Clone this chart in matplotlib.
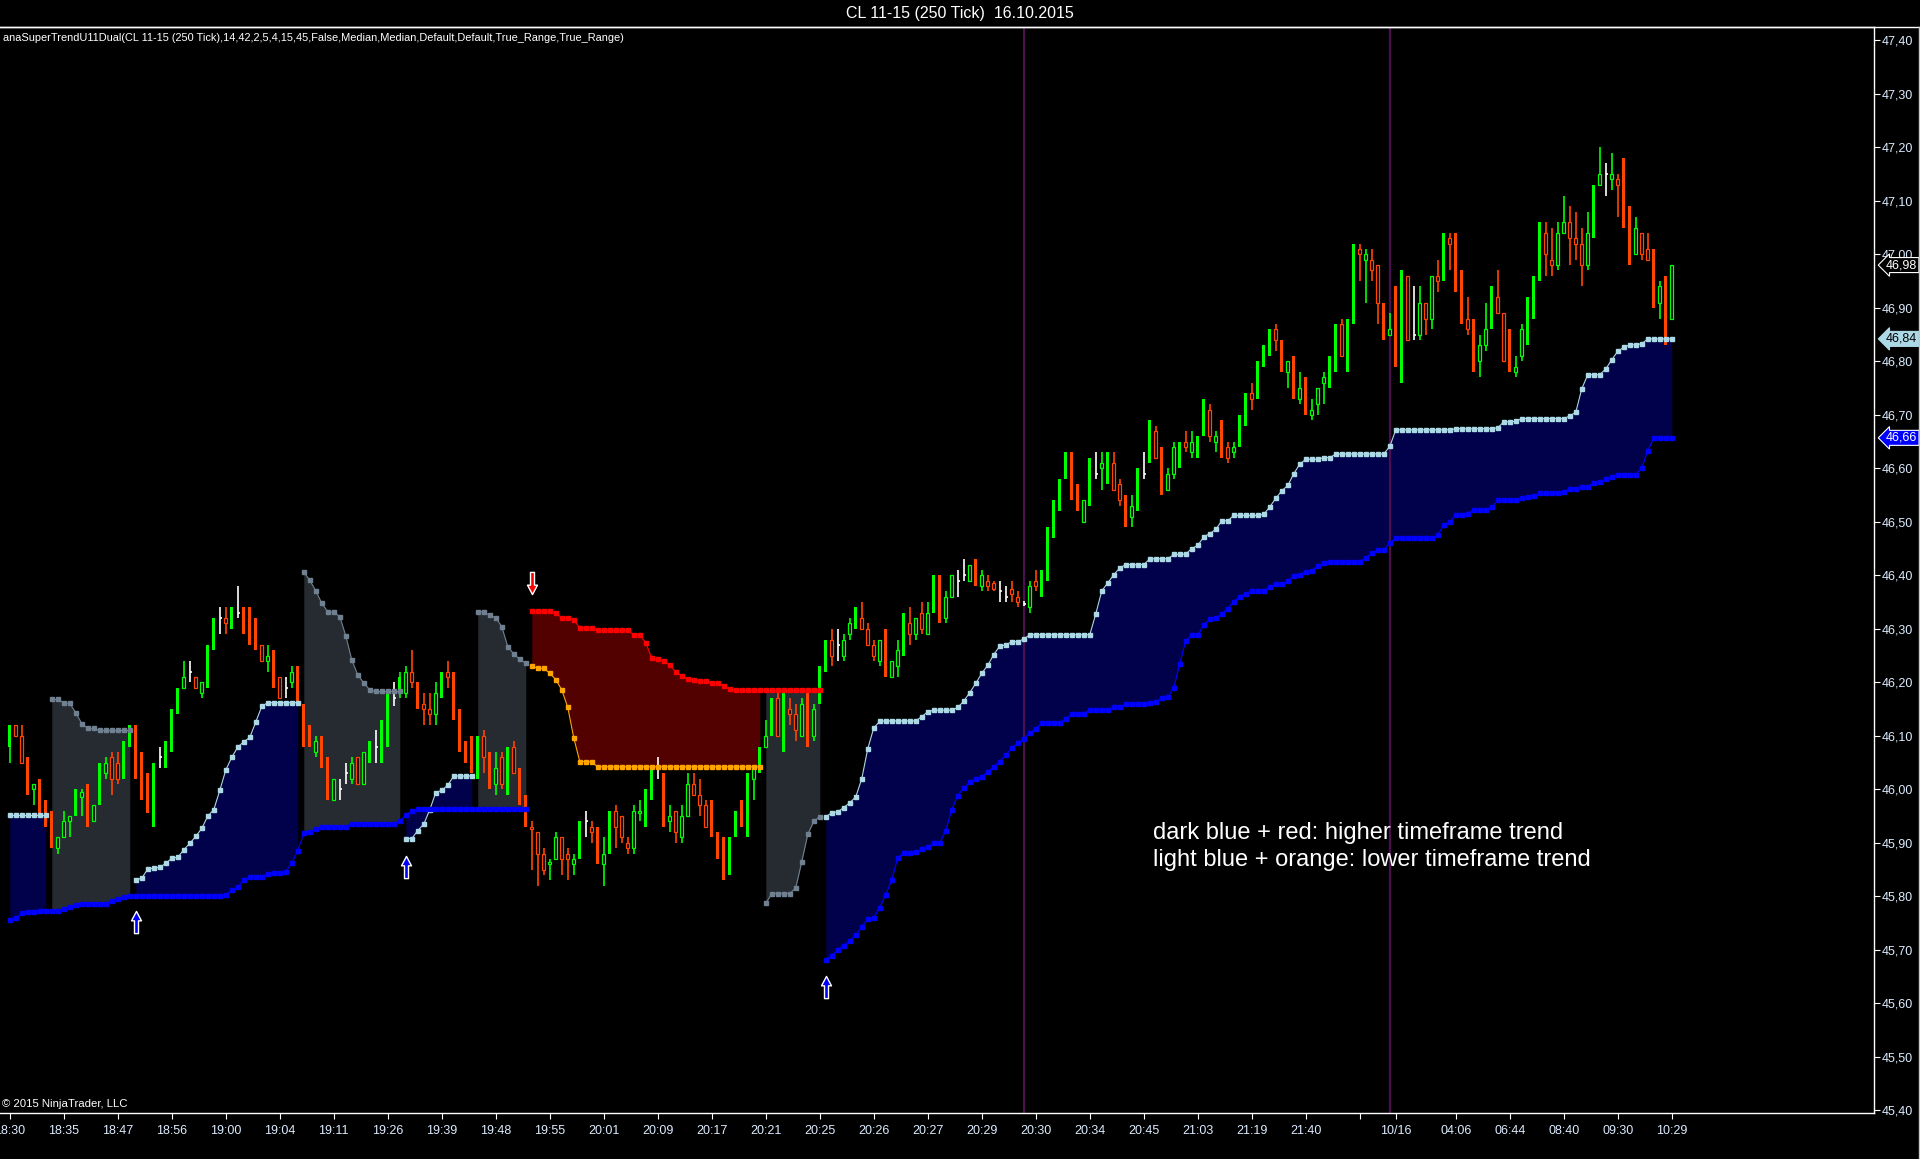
import numpy as np
import matplotlib
matplotlib.use("Agg")
import matplotlib.pyplot as plt
from matplotlib.lines import Line2D
from matplotlib.path import Path
from matplotlib.ticker import MultipleLocator, FuncFormatter

plt.rcParams['font.family'] = ['Liberation Sans', 'DejaVu Sans']

# ---- 250 tick bars, CL 11-15 ----
bar_high = [
    46.12, 46.12, 46.12, 46.06, 46.01, 46.02, 45.98, 45.96, 45.91, 45.96,
    45.95, 46.00, 46.00, 46.01, 45.97, 46.05, 46.06, 46.07, 46.07, 46.09,
    46.12, 46.12, 46.07, 46.03, 46.05, 46.08, 46.09, 46.15, 46.19, 46.24,
    46.24, 46.21, 46.20, 46.27, 46.32, 46.34, 46.34, 46.34, 46.38, 46.34,
    46.34, 46.32, 46.27, 46.27, 46.26, 46.21, 46.21, 46.23, 46.23, 46.16,
    46.12, 46.10, 46.10, 46.06, 46.02, 46.02, 46.05, 46.06, 46.06, 46.07,
    46.09, 46.11, 46.13, 46.18, 46.20, 46.22, 46.23, 46.26, 46.20, 46.18,
    46.18, 46.20, 46.22, 46.24, 46.22, 46.15, 46.09, 46.10, 46.10, 46.11,
    46.07, 46.07, 46.07, 46.08, 46.09, 46.04, 45.99, 45.94, 45.92, 45.89,
    45.87, 45.92, 45.91, 45.89, 45.88, 45.94, 45.96, 45.94, 45.93, 45.91,
    45.96, 45.97, 45.95, 45.91, 45.97, 45.98, 46.00, 46.04, 46.06, 46.03,
    45.97, 45.96, 45.97, 46.03, 46.03, 46.02, 45.98, 45.98, 45.92, 45.91,
    45.91, 45.96, 45.98, 46.03, 46.04, 46.08, 46.13, 46.17, 46.19, 46.18,
    46.17, 46.16, 46.17, 46.18, 46.16, 46.23, 46.28, 46.30, 46.30, 46.29,
    46.32, 46.34, 46.35, 46.31, 46.28, 46.28, 46.30, 46.24, 46.28, 46.33,
    46.34, 46.32, 46.35, 46.35, 46.40, 46.40, 46.37, 46.40, 46.41, 46.43,
    46.42, 46.43, 46.41, 46.40, 46.39, 46.39, 46.38, 46.39, 46.37, 46.352,
    46.39, 46.41, 46.41, 46.49, 46.54, 46.58, 46.63, 46.63, 46.57, 46.54,
    46.62, 46.63, 46.63, 46.63, 46.63, 46.58, 46.55, 46.55, 46.60, 46.63,
    46.69, 46.68, 46.64, 46.60, 46.65, 46.65, 46.67, 46.67, 46.66, 46.73,
    46.72, 46.67, 46.69, 46.65, 46.65, 46.70, 46.74, 46.76, 46.80, 46.83,
    46.86, 46.87, 46.84, 46.80, 46.81, 46.78, 46.77, 46.73, 46.75, 46.78,
    46.81, 46.87, 46.88, 46.88, 47.02, 47.02, 47.01, 47.01, 46.98, 46.91,
    46.89, 46.94, 46.97, 46.96, 46.94, 46.94, 46.91, 46.96, 46.99, 47.04,
    47.04, 47.04, 46.97, 46.92, 46.88, 46.85, 46.91, 46.94, 46.97, 46.89,
    46.86, 46.81, 46.87, 46.92, 46.96, 47.06, 47.06, 47.05, 47.06, 47.11,
    47.09, 47.08, 47.05, 47.08, 47.13, 47.20, 47.17, 47.19, 47.15, 47.18,
    47.09, 47.07, 47.04, 47.04, 47.01, 46.95, 46.96, 46.98,
]
bar_low = [
    46.05, 46.10, 46.05, 45.99, 45.97, 45.955, 45.93, 45.89, 45.88, 45.91,
    45.91, 45.95, 45.95, 45.93, 45.94, 45.97, 46.02, 45.99, 46.01, 46.02,
    46.08, 46.02, 45.98, 45.955, 45.93, 46.04, 46.04, 46.07, 46.14, 46.19,
    46.20, 46.19, 46.17, 46.19, 46.26, 46.29, 46.29, 46.30, 46.32, 46.29,
    46.27, 46.26, 46.24, 46.22, 46.19, 46.17, 46.17, 46.19, 46.16, 46.08,
    46.08, 46.06, 46.04, 45.98, 45.98, 45.98, 46.01, 46.01, 46.01, 46.01,
    46.05, 46.05, 46.05, 46.08, 46.155, 46.17, 46.17, 46.19, 46.15, 46.12,
    46.12, 46.12, 46.17, 46.19, 46.13, 46.07, 46.05, 46.03, 46.02, 46.03,
    46.00, 45.99, 46.00, 45.99, 46.03, 45.97, 45.93, 45.85, 45.82, 45.84,
    45.83, 45.87, 45.84, 45.83, 45.84, 45.87, 45.91, 45.90, 45.86, 45.82,
    45.88, 45.89, 45.90, 45.88, 45.88, 45.94, 45.93, 45.98, 46.02, 45.93,
    45.92, 45.90, 45.90, 45.95, 45.99, 45.95, 45.93, 45.91, 45.87, 45.83,
    45.84, 45.91, 45.93, 45.91, 45.98, 46.03, 46.08, 46.10, 46.10, 46.07,
    46.12, 46.09, 46.10, 46.08, 46.09, 46.16, 46.22, 46.23, 46.24, 46.24,
    46.28, 46.30, 46.30, 46.27, 46.24, 46.23, 46.21, 46.21, 46.21, 46.25,
    46.27, 46.28, 46.29, 46.29, 46.33, 46.31, 46.31, 46.36, 46.36, 46.39,
    46.39, 46.38, 46.37, 46.37, 46.37, 46.35, 46.35, 46.35, 46.34, 46.342,
    46.33, 46.37, 46.36, 46.39, 46.47, 46.52, 46.58, 46.54, 46.52, 46.50,
    46.53, 46.58, 46.56, 46.57, 46.56, 46.53, 46.49, 46.49, 46.52, 46.58,
    46.61, 46.62, 46.55, 46.56, 46.58, 46.60, 46.63, 46.62, 46.62, 46.66,
    46.65, 46.63, 46.62, 46.61, 46.62, 46.64, 46.68, 46.71, 46.73, 46.79,
    46.81, 46.82, 46.78, 46.75, 46.73, 46.72, 46.70, 46.69, 46.70, 46.72,
    46.75, 46.78, 46.81, 46.78, 46.87, 46.95, 46.91, 46.95, 46.87, 46.84,
    46.85, 46.79, 46.76, 46.84, 46.84, 46.84, 46.85, 46.86, 46.93, 46.95,
    46.97, 46.93, 46.87, 46.85, 46.78, 46.77, 46.82, 46.86, 46.89, 46.80,
    46.78, 46.77, 46.80, 46.83, 46.88, 46.95, 46.96, 46.96, 46.97, 47.04,
    46.98, 46.99, 46.94, 46.97, 47.03, 47.13, 47.11, 47.12, 47.07, 47.05,
    46.98, 47.00, 46.99, 46.99, 46.90, 46.88, 46.83, 46.88,
]
bar_open = [
    46.08, 46.12, 46.10, 46.06, 46.00, 46.02, 45.98, 45.96, 45.89, 45.91,
    45.94, 45.95, 45.985, 46.01, 45.94, 45.97, 46.03, 46.06, 46.05, 46.02,
    46.08, 46.12, 46.07, 46.03, 45.93, 46.06, 46.04, 46.07, 46.14, 46.19,
    46.22, 46.21, 46.18, 46.19, 46.26, 46.32, 46.32, 46.30, 46.33, 46.34,
    46.34, 46.32, 46.27, 46.24, 46.26, 46.21, 46.19, 46.20, 46.23, 46.16,
    46.12, 46.07, 46.10, 46.06, 45.98, 46.00, 46.03, 46.02, 46.06, 46.01,
    46.05, 46.08, 46.05, 46.08, 46.17, 46.18, 46.18, 46.22, 46.20, 46.16,
    46.15, 46.14, 46.17, 46.22, 46.22, 46.15, 46.09, 46.10, 46.02, 46.10,
    46.07, 46.01, 46.06, 45.99, 46.08, 46.04, 45.99, 45.93, 45.92, 45.88,
    45.86, 45.87, 45.91, 45.88, 45.86, 45.87, 45.94, 45.93, 45.93, 45.86,
    45.88, 45.96, 45.95, 45.90, 45.89, 45.955, 45.93, 45.98, 46.04, 46.03,
    45.94, 45.96, 45.91, 45.95, 46.01, 45.99, 45.97, 45.98, 45.92, 45.91,
    45.84, 45.91, 45.98, 45.91, 46.02, 46.03, 46.08, 46.10, 46.17, 46.07,
    46.15, 46.14, 46.10, 46.18, 46.10, 46.16, 46.22, 46.28, 46.27, 46.25,
    46.29, 46.30, 46.32, 46.30, 46.27, 46.24, 46.30, 46.21, 46.23, 46.25,
    46.31, 46.29, 46.33, 46.29, 46.33, 46.40, 46.32, 46.36, 46.39, 46.40,
    46.39, 46.43, 46.38, 46.39, 46.385, 46.37, 46.36, 46.375, 46.36, 46.347,
    46.34, 46.39, 46.36, 46.39, 46.47, 46.52, 46.58, 46.63, 46.57, 46.50,
    46.53, 46.59, 46.60, 46.57, 46.61, 46.57, 46.55, 46.51, 46.52, 46.59,
    46.61, 46.67, 46.64, 46.56, 46.59, 46.60, 46.65, 46.63, 46.62, 46.66,
    46.71, 46.65, 46.69, 46.64, 46.63, 46.64, 46.68, 46.74, 46.73, 46.79,
    46.81, 46.86, 46.84, 46.78, 46.81, 46.73, 46.77, 46.70, 46.72, 46.76,
    46.75, 46.78, 46.87, 46.78, 46.87, 47.01, 46.99, 46.99, 46.98, 46.91,
    46.85, 46.94, 46.76, 46.96, 46.85, 46.85, 46.91, 46.88, 46.96, 46.95,
    47.03, 47.04, 46.97, 46.88, 46.88, 46.80, 46.83, 46.86, 46.92, 46.89,
    46.86, 46.78, 46.81, 46.83, 46.88, 46.95, 47.04, 46.99, 46.98, 47.04,
    47.06, 47.03, 47.02, 46.98, 47.03, 47.13, 47.15, 47.14, 47.14, 47.18,
    47.09, 47.00, 47.04, 47.01, 47.01, 46.91, 46.96, 46.88,
]
bar_close = [
    46.12, 46.10, 46.05, 45.99, 46.01, 45.955, 45.93, 45.89, 45.91, 45.94,
    45.95, 46.00, 45.995, 45.93, 45.97, 46.05, 46.05, 46.02, 46.02, 46.09,
    46.12, 46.02, 45.98, 45.955, 46.05, 46.06, 46.09, 46.15, 46.19, 46.21,
    46.22, 46.19, 46.20, 46.27, 46.32, 46.32, 46.31, 46.34, 46.33, 46.29,
    46.27, 46.26, 46.24, 46.25, 46.19, 46.17, 46.19, 46.22, 46.16, 46.08,
    46.08, 46.09, 46.04, 45.98, 46.02, 46.00, 46.03, 46.05, 46.01, 46.07,
    46.09, 46.08, 46.13, 46.18, 46.17, 46.21, 46.22, 46.20, 46.15, 46.15,
    46.14, 46.18, 46.22, 46.21, 46.13, 46.07, 46.05, 46.03, 46.10, 46.06,
    46.00, 46.04, 46.01, 46.08, 46.03, 45.97, 45.93, 45.925, 45.88, 45.85,
    45.865, 45.91, 45.87, 45.87, 45.87, 45.94, 45.94, 45.92, 45.86, 45.88,
    45.96, 45.93, 45.91, 45.89, 45.96, 45.96, 46.00, 46.04, 46.04, 45.93,
    45.95, 45.92, 45.95, 46.01, 45.99, 45.97, 45.93, 45.91, 45.87, 45.83,
    45.91, 45.96, 45.93, 46.03, 46.04, 46.08, 46.10, 46.17, 46.10, 46.18,
    46.14, 46.11, 46.16, 46.08, 46.15, 46.23, 46.28, 46.25, 46.27, 46.28,
    46.31, 46.34, 46.30, 46.27, 46.25, 46.28, 46.21, 46.24, 46.26, 46.33,
    46.29, 46.32, 46.30, 46.33, 46.40, 46.31, 46.36, 46.40, 46.39, 46.40,
    46.42, 46.38, 46.40, 46.38, 46.375, 46.37, 46.36, 46.365, 46.35, 46.347,
    46.38, 46.38, 46.41, 46.49, 46.54, 46.58, 46.63, 46.54, 46.52, 46.54,
    46.62, 46.59, 46.61, 46.63, 46.56, 46.54, 46.49, 46.53, 46.60, 46.59,
    46.69, 46.62, 46.55, 46.59, 46.64, 46.65, 46.64, 46.65, 46.66, 46.73,
    46.66, 46.66, 46.62, 46.62, 46.64, 46.70, 46.74, 46.73, 46.80, 46.83,
    46.86, 46.84, 46.78, 46.80, 46.73, 46.75, 46.70, 46.71, 46.75, 46.77,
    46.81, 46.87, 46.81, 46.88, 47.02, 47.00, 47.00, 46.97, 46.91, 46.84,
    46.86, 46.79, 46.97, 46.84, 46.85, 46.91, 46.88, 46.96, 46.95, 47.04,
    47.02, 46.93, 46.87, 46.86, 46.78, 46.83, 46.86, 46.94, 46.89, 46.80,
    46.78, 46.79, 46.86, 46.92, 46.96, 47.06, 47.00, 46.98, 47.04, 47.06,
    47.03, 47.02, 46.98, 47.04, 47.13, 47.15, 47.15, 47.15, 47.13, 47.05,
    46.98, 47.05, 47.00, 46.99, 46.90, 46.94, 46.83, 46.98,
]
# 1 = hollow candle body
bar_hollow = [
    0, 1, 1, 0, 1, 0, 0, 0, 1, 1,
    1, 0, 1, 0, 1, 0, 1, 1, 1, 0,
    0, 0, 0, 0, 0, 0, 0, 0, 0, 1,
    0, 1, 1, 0, 0, 0, 1, 0, 0, 0,
    0, 0, 1, 1, 0, 1, 0, 1, 0, 0,
    0, 1, 0, 0, 1, 0, 0, 1, 1, 1,
    0, 0, 0, 0, 0, 0, 1, 1, 0, 1,
    1, 1, 0, 1, 0, 0, 0, 0, 0, 1,
    0, 1, 1, 0, 1, 0, 0, 1, 1, 1,
    1, 1, 1, 1, 1, 0, 0, 1, 0, 1,
    0, 1, 1, 1, 1, 1, 0, 0, 0, 0,
    1, 1, 1, 1, 1, 1, 1, 0, 0, 0,
    0, 0, 0, 0, 1, 0, 1, 0, 1, 0,
    1, 1, 1, 0, 1, 0, 0, 1, 0, 1,
    1, 0, 1, 1, 1, 1, 0, 1, 1, 0,
    1, 1, 1, 1, 0, 0, 1, 1, 0, 0,
    1, 0, 1, 1, 1, 0, 0, 1, 1, 0,
    1, 1, 0, 0, 0, 0, 0, 0, 0, 1,
    0, 0, 1, 0, 1, 1, 0, 1, 0, 0,
    0, 1, 0, 1, 1, 0, 1, 1, 0, 0,
    1, 1, 0, 1, 1, 0, 0, 1, 0, 0,
    0, 1, 0, 1, 0, 1, 0, 1, 1, 1,
    0, 0, 1, 0, 0, 1, 1, 1, 1, 0,
    1, 0, 0, 1, 0, 1, 1, 1, 1, 0,
    1, 0, 0, 1, 0, 1, 1, 0, 1, 1,
    0, 1, 1, 0, 0, 0, 1, 1, 1, 1,
    1, 1, 1, 1, 0, 1, 0, 1, 1, 0,
    0, 1, 1, 1, 0, 1, 0, 1,
]

# lower timeframe SuperTrend stop
ltf_stop = [
    45.952, 45.952, 45.952, 45.952, 45.952, 45.952, 45.952, 46.168, 46.168, 46.162,
    46.161, 46.143, 46.123, 46.114, 46.114, 46.110, 46.110, 46.110, 46.110, 46.110,
    46.110, 45.831, 45.834, 45.851, 45.853, 45.854, 45.862, 45.871, 45.873, 45.887,
    45.899, 45.912, 45.927, 45.950, 45.962, 45.998, 46.036, 46.060, 46.079, 46.089,
    46.097, 46.126, 46.155, 46.162, 46.162, 46.162, 46.162, 46.162, 46.162, 46.406,
    46.391, 46.371, 46.348, 46.332, 46.331, 46.323, 46.287, 46.242, 46.214, 46.199,
    46.186, 46.183, 46.183, 46.183, 46.183, 46.183, 45.908, 45.908, 45.923, 45.935,
    45.962, 45.994, 45.998, 46.008, 46.025, 46.025, 46.025, 46.025, 46.332, 46.332,
    46.325, 46.321, 46.304, 46.267, 46.253, 46.243, 46.236, 46.231, 46.226, 46.226,
    46.217, 46.205, 46.186, 46.153, 46.096, 46.052, 46.052, 46.051, 46.042, 46.042,
    46.042, 46.042, 46.042, 46.042, 46.042, 46.042, 46.042, 46.042, 46.042, 46.042,
    46.042, 46.042, 46.042, 46.042, 46.042, 46.042, 46.042, 46.042, 46.042, 46.042,
    46.042, 46.042, 46.042, 46.042, 46.042, 46.042, 45.787, 45.805, 45.805, 45.805,
    45.805, 45.816, 45.865, 45.916, 45.940, 45.949, 45.949, 45.956, 45.958, 45.966,
    45.975, 45.986, 46.020, 46.076, 46.115, 46.127, 46.128, 46.128, 46.128, 46.128,
    46.128, 46.128, 46.136, 46.145, 46.148, 46.148, 46.148, 46.148, 46.153, 46.165,
    46.181, 46.198, 46.217, 46.232, 46.252, 46.268, 46.270, 46.276, 46.276, 46.281,
    46.289, 46.289, 46.289, 46.289, 46.289, 46.289, 46.289, 46.289, 46.289, 46.289,
    46.289, 46.328, 46.371, 46.386, 46.401, 46.414, 46.420, 46.420, 46.420, 46.420,
    46.431, 46.431, 46.431, 46.431, 46.439, 46.439, 46.440, 46.450, 46.456, 46.472,
    46.478, 46.486, 46.502, 46.502, 46.512, 46.512, 46.512, 46.512, 46.512, 46.514,
    46.528, 46.544, 46.558, 46.568, 46.590, 46.608, 46.617, 46.617, 46.617, 46.620,
    46.620, 46.627, 46.627, 46.627, 46.627, 46.627, 46.627, 46.627, 46.627, 46.627,
    46.641, 46.672, 46.672, 46.672, 46.672, 46.672, 46.672, 46.672, 46.672, 46.672,
    46.672, 46.674, 46.674, 46.674, 46.674, 46.674, 46.674, 46.674, 46.676, 46.687,
    46.687, 46.688, 46.693, 46.693, 46.693, 46.693, 46.693, 46.693, 46.693, 46.693,
    46.698, 46.705, 46.749, 46.775, 46.775, 46.775, 46.786, 46.803, 46.819, 46.826,
    46.831, 46.831, 46.833, 46.842, 46.842, 46.842, 46.842, 46.842,
]
# higher timeframe SuperTrend stop
htf_stop = [
    45.755, 45.759, 45.768, 45.770, 45.770, 45.773, 45.773, 45.773, 45.773, 45.776,
    45.780, 45.783, 45.786, 45.786, 45.786, 45.786, 45.786, 45.792, 45.795, 45.798,
    45.800, 45.801, 45.801, 45.801, 45.801, 45.801, 45.801, 45.801, 45.801, 45.801,
    45.801, 45.801, 45.801, 45.801, 45.801, 45.801, 45.803, 45.811, 45.817, 45.831,
    45.836, 45.837, 45.837, 45.842, 45.843, 45.843, 45.846, 45.862, 45.885, 45.918,
    45.921, 45.925, 45.930, 45.930, 45.930, 45.930, 45.930, 45.936, 45.936, 45.936,
    45.936, 45.936, 45.936, 45.936, 45.936, 45.941, 45.952, 45.960, 45.963, 45.963,
    45.963, 45.963, 45.963, 45.963, 45.963, 45.963, 45.963, 45.963, 45.963, 45.963,
    45.963, 45.963, 45.963, 45.963, 45.963, 45.963, 45.963, 46.333, 46.333, 46.333,
    46.333, 46.329, 46.321, 46.321, 46.317, 46.302, 46.302, 46.302, 46.297, 46.297,
    46.297, 46.297, 46.297, 46.297, 46.289, 46.289, 46.274, 46.245, 46.243, 46.239,
    46.232, 46.220, 46.212, 46.206, 46.205, 46.203, 46.203, 46.199, 46.199, 46.193,
    46.187, 46.186, 46.185, 46.185, 46.185, 46.185, 46.185, 46.185, 46.185, 46.185,
    46.185, 46.185, 46.185, 46.185, 46.185, 46.185, 45.681, 45.689, 45.700, 45.708,
    45.717, 45.727, 45.743, 45.757, 45.760, 45.779, 45.803, 45.831, 45.872, 45.881,
    45.881, 45.882, 45.888, 45.893, 45.899, 45.899, 45.923, 45.962, 45.988, 46.003,
    46.013, 46.020, 46.024, 46.033, 46.042, 46.052, 46.064, 46.078, 46.086, 46.095,
    46.105, 46.113, 46.124, 46.124, 46.124, 46.124, 46.132, 46.140, 46.140, 46.141,
    46.149, 46.149, 46.149, 46.149, 46.153, 46.154, 46.160, 46.160, 46.160, 46.160,
    46.161, 46.163, 46.171, 46.172, 46.190, 46.235, 46.278, 46.288, 46.288, 46.307,
    46.318, 46.320, 46.328, 46.338, 46.351, 46.360, 46.366, 46.371, 46.371, 46.371,
    46.379, 46.383, 46.383, 46.389, 46.399, 46.401, 46.407, 46.409, 46.418, 46.423,
    46.425, 46.425, 46.425, 46.425, 46.425, 46.425, 46.433, 46.441, 46.448, 46.448,
    46.460, 46.470, 46.470, 46.470, 46.470, 46.470, 46.470, 46.470, 46.475, 46.494,
    46.500, 46.512, 46.512, 46.515, 46.523, 46.523, 46.523, 46.528, 46.540, 46.540,
    46.540, 46.540, 46.545, 46.547, 46.549, 46.553, 46.553, 46.553, 46.553, 46.556,
    46.562, 46.562, 46.566, 46.566, 46.573, 46.575, 46.580, 46.584, 46.588, 46.588,
    46.588, 46.588, 46.601, 46.633, 46.657, 46.657, 46.657, 46.657,
]
# bars (first, last) where each stop is in a down trend
ltf_down_segments = [(7, 20), (49, 65), (78, 125)]
htf_down_segments = [(87, 135)]

# signal arrows
arrow_bars = [21, 66, 87, 136]
arrow_prices = [45.752, 45.855, 46.386, 45.631]
arrow_dirs = [1, 1, -1, 1]

session_breaks = [169, 230]

tick_bars = [0, 9, 18, 27, 36, 45, 54, 63, 72, 81, 90, 99, 108, 117, 126, 135,
             144, 153, 162, 171, 180, 189, 198, 207, 216, 225, 231, 241, 250,
             259, 268, 277]
tick_labels = ['18:30', '18:35', '18:47', '18:56', '19:00', '19:04', '19:11',
               '19:26', '19:39', '19:48', '19:55', '20:01', '20:09', '20:17',
               '20:21', '20:25', '20:26', '20:27', '20:29', '20:30', '20:34',
               '20:45', '21:03', '21:19', '21:40', '', '10/16', '04:06',
               '06:44', '08:40', '09:30', '10:29']


def price_fmt(v, pos=None):
    return f"{v:.2f}".replace('.', ',')


n = len(bar_close)
x = np.arange(n)
o = np.array(bar_open)
c = np.array(bar_close)
hi = np.array(bar_high)
lo = np.array(bar_low)
hollow = np.array(bar_hollow, dtype=bool)
ltf = np.array(ltf_stop)
htf = np.array(htf_stop)

ltf_up = np.ones(n, dtype=bool)
for a, b in ltf_down_segments:
    ltf_up[a:b + 1] = False
htf_up = np.ones(n, dtype=bool)
for a, b in htf_down_segments:
    htf_up[a:b + 1] = False

fig = plt.figure(figsize=(19.2, 11.59), dpi=100, facecolor='black')
ax = fig.add_axes([0, 46 / 1159, 1874 / 1920, 1086 / 1159])
ax.set_facecolor('black')
ax.set_xlim(-1.63, 310.7)
ax.set_ylim(45.395, 47.425)

# fills + lower timeframe line, one piece per trend state
state = ltf_up.astype(int) * 2 + htf_up.astype(int)
cuts = np.flatnonzero(np.diff(state)) + 1
fill_col = {3: '#00004b', 0: '#520000', 1: '#262a31', 2: '#262a31'}
ltf_col = {3: '#add8e6', 0: '#ffa500', 1: '#708090', 2: '#708090'}
for a, b in zip(np.r_[0, cuts], np.r_[cuts, n]):
    s = state[a]
    ax.fill_between(x[a:b], ltf[a:b], htf[a:b], color=fill_col[s], lw=0, zorder=1)
    ax.plot(x[a:b], ltf[a:b], color=ltf_col[s], lw=0.8, marker='s', ms=2.9,
            zorder=5)

hcuts = np.flatnonzero(np.diff(htf_up.astype(int))) + 1
for a, b in zip(np.r_[0, hcuts], np.r_[hcuts, n]):
    col = '#0000ff' if htf_up[a] else '#ff0000'
    ax.plot(x[a:b], htf[a:b], color=col, lw=0.8, marker='s', ms=2.9, zorder=5)

for b in session_breaks:
    ax.axvline(b, color='#4b0f50', lw=1.6, zorder=2)

# candles
up = c > o
dn = c < o
doji = c == o
cols = np.where(up, '#00ff00', np.where(dn, '#ff4500', '#ffffff'))
ax.vlines(x, lo, hi, colors=cols, lw=1.2, zorder=3)
body_lo = np.minimum(o, c)
body_h = np.abs(c - o)
solid = ~hollow & ~doji
ax.bar(x[solid], body_h[solid], bottom=body_lo[solid], width=0.5,
       color=cols[solid], lw=0, zorder=3)
ax.bar(x[hollow], body_h[hollow], bottom=body_lo[hollow], width=0.5,
       facecolor='black', edgecolor=cols[hollow], lw=0.9, zorder=3)
ax.hlines(c[doji], x[doji], x[doji] + 0.4, colors='white', lw=1.2, zorder=3)

# arrows
arrow_up = Path([(-0.18, -1), (0.18, -1), (0.18, 0.15), (0.45, 0.15), (0, 1),
                 (-0.45, 0.15), (-0.18, 0.15), (-0.18, -1)],
                [Path.MOVETO] + [Path.LINETO] * 6 + [Path.CLOSEPOLY])
arrow_dn = Path(arrow_up.vertices * np.array([1, -1]), arrow_up.codes)
for b, p, d in zip(arrow_bars, arrow_prices, arrow_dirs):
    ax.plot(b, p, ls='none', marker=arrow_up if d > 0 else arrow_dn, ms=16,
            mfc='#0000ff' if d > 0 else '#ff0000', mec='white', mew=1.0, zorder=6)

# axes styling
ax.spines['left'].set_visible(False)
for side in ['right', 'bottom', 'top']:
    ax.spines[side].set_color('white')
    ax.spines[side].set_linewidth(1.0)
ax.yaxis.tick_right()
ax.yaxis.set_major_locator(MultipleLocator(0.1))
ax.yaxis.set_major_formatter(FuncFormatter(price_fmt))
ax.set_xticks(tick_bars)
ax.set_xticklabels(tick_labels)
ax.tick_params(axis='both', colors='white', labelcolor='#dcecff', labelsize=9,
               length=4.5, width=0.8, direction='out')
ax.tick_params(axis='y', pad=1)
ax.tick_params(axis='x', pad=4)

# price markers on the right axis
markers = [(c[-1], 'black', 'white', 'white'),
           (ltf[-1], '#add8e6', '#add8e6', 'black'),
           (htf[-1], '#0000ff', 'white', 'white')]
for val, fc, ec, tc in markers:
    ax.text(1.0065, val, price_fmt(val), transform=ax.get_yaxis_transform(),
            ha='left', va='center', fontsize=9, color=tc, clip_on=False,
            zorder=10,
            bbox=dict(boxstyle='larrow,pad=0.12', fc=fc, ec=ec, lw=0.8))

# texts
fig.text(0.5, 1 - 13.5 / 1159, 'CL 11-15 (250 Tick)  16.10.2015', color='white',
         fontsize=11.5, ha='center', va='center')
ax.text(0.0016, 0.99,
        'anaSuperTrendU11Dual(CL 11-15 (250 Tick),14,42,2,5,4,15,45,False,'
        'Median,Median,Default,Default,True_Range,True_Range)',
        transform=ax.transAxes, color='white', fontsize=7.95, ha='left',
        va='center')
ax.text(0.001, 0.004, '\u00a9 2015 NinjaTrader, LLC', transform=ax.transAxes,
        color='white', fontsize=8.2, ha='left', va='bottom')
ax.text(0.615, 0.258, 'dark blue + red: higher timeframe trend',
        transform=ax.transAxes, color='white', fontsize=17, ha='left',
        va='center')
ax.text(0.615, 0.233, 'light blue + orange: lower timeframe trend',
        transform=ax.transAxes, color='white', fontsize=17, ha='left',
        va='center')

# window frame lines
fig.add_artist(Line2D([0, 1], [1 - 27 / 1159] * 2, transform=fig.transFigure,
                      color='white', lw=1.0))
fig.add_artist(Line2D([1918.5 / 1920] * 2, [0, 1 - 27 / 1159],
                      transform=fig.transFigure, color='#c8c8c8', lw=1.0))

fig.savefig('out.png', dpi=100, facecolor='black')
